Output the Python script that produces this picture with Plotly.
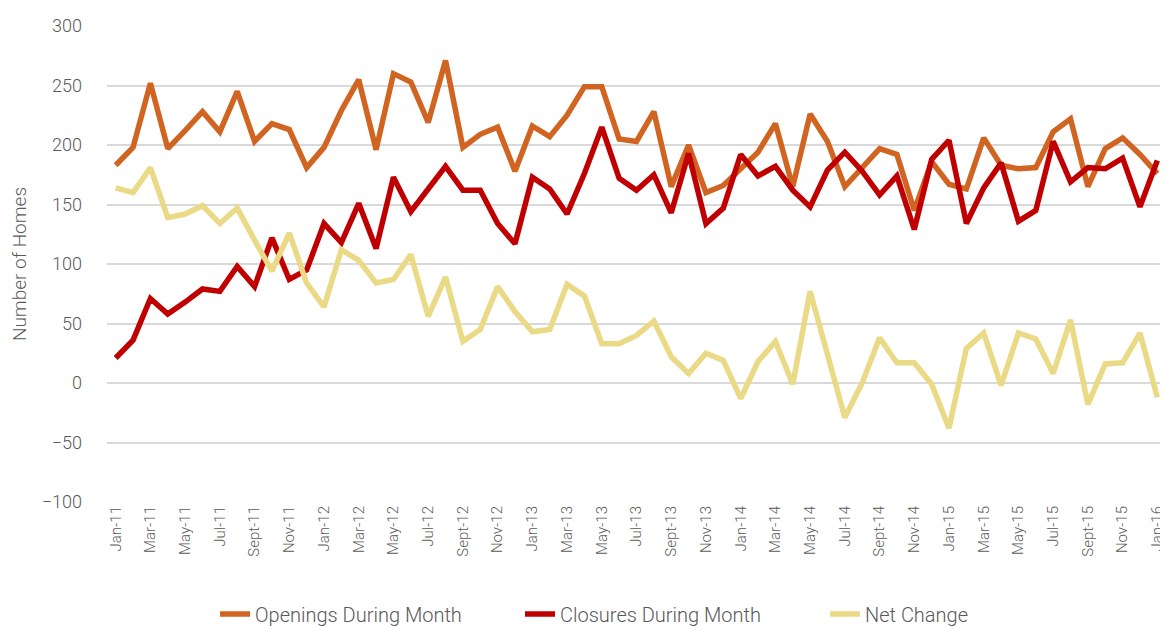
import plotly.graph_objects as go

months = ["Jan", "Feb", "Mar", "Apr", "May", "Jun", "Jul", "Aug", "Sept", "Oct", "Nov", "Dec"]
categories = [f"{m}-{y}" for y in range(11, 16) for m in months] + ["Jan-16"]

openings = [183, 198, 252, 197, 212, 228, 211, 245, 203, 218, 213, 181,
            198, 229, 255, 196, 260, 253, 219, 271, 198, 209, 215, 178,
            216, 207, 225, 249, 249, 205, 203, 228, 165, 200, 160, 166,
            180, 194, 218, 165, 226, 203, 165, 181, 197, 192, 145, 186,
            167, 163, 206, 183, 180, 181, 211, 222, 165, 197, 206, 192, 176]

closures = [21, 36, 71, 58, 68, 79, 77, 98, 81, 122, 87, 95,
            134, 118, 151, 113, 173, 144, 163, 182, 162, 162, 134, 117,
            173, 163, 142, 176, 215, 172, 162, 175, 143, 193, 134, 147,
            192, 174, 182, 162, 148, 179, 194, 178, 158, 174, 129, 188,
            204, 134, 164, 185, 136, 145, 203, 169, 181, 180, 189, 148, 187]

net_change = [164, 160, 181, 139, 142, 149, 134, 147, 120, 94, 126, 84,
              64, 112, 103, 84, 87, 108, 56, 89, 35, 45, 81, 60,
              43, 45, 83, 73, 33, 33, 40, 52, 22, 8, 25, 19,
              -13, 18, 35, -1, 77, 25, -29, 0, 38, 17, 17, -1,
              -38, 29, 42, -2, 42, 37, 8, 53, -18, 16, 17, 42, -12]

tick_labels = categories[::2]

font_family = "Roboto, sans-serif"
text_color = "#595959"

fig = go.Figure()
series = [
    ("Openings During Month", openings, "#D06420"),
    ("Closures During Month", closures, "#C00000"),
    ("Net Change", net_change, "#EAD985"),
]
for name, vals, color in series:
    fig.add_trace(go.Scatter(
        x=categories, y=vals, name=name, mode="lines",
        line=dict(color=color, width=5.5),
    ))

fig.update_layout(
    width=1160, height=621,
    paper_bgcolor="white", plot_bgcolor="white",
    margin=dict(l=99, r=2, t=18, b=127),
    font=dict(family=font_family, color=text_color, weight=300),
    legend=dict(orientation="h", x=0.102, xanchor="left",
                yref="container", y=15 / 621, yanchor="middle",
                entrywidth=260, entrywidthmode="pixels",
                font=dict(size=20, color=text_color, weight=300), traceorder="normal"),
    showlegend=True,
)
fig.update_xaxes(
    type="category", categoryorder="array", categoryarray=categories,
    tickmode="array", tickvals=tick_labels, ticktext=tick_labels,
    tickangle=-90, tickfont=dict(size=15, color=text_color, weight=300),
    showgrid=False, showline=False, ticks="", automargin=False,
    range=[-0.5, len(categories) - 0.5],
)
fig.update_yaxes(
    range=[-100, 300], dtick=50, tick0=0,
    showgrid=True, gridcolor="#D9D9D9", gridwidth=1.5,
    zeroline=False, showline=False, ticks="", automargin=False,
    ticklabelstandoff=24,
    tickfont=dict(size=18, color=text_color, weight=300),
    title=dict(text="Number of Homes", font=dict(size=19, color=text_color, weight=300), standoff=10),
)

fig.write_html("out.html")
